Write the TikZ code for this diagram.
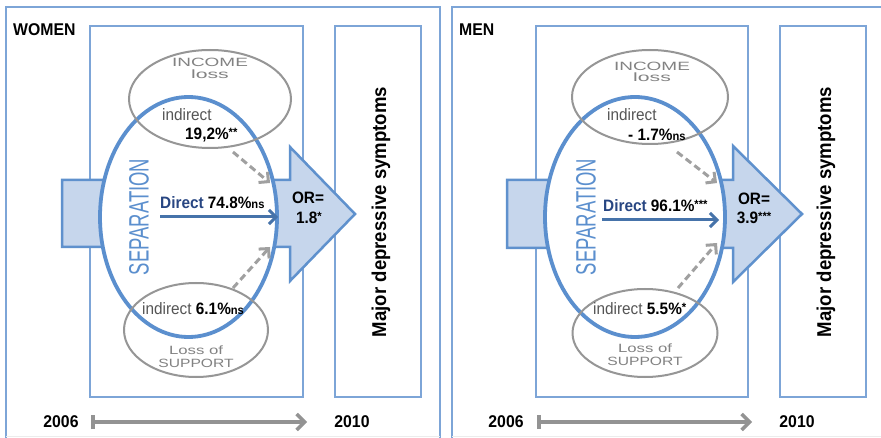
\documentclass[tikz,border=0pt]{standalone}
\usepackage{fontspec}
\setmainfont[FakeStretch=0.93]{Liberation Sans}
\usepackage{graphicx}
\usetikzlibrary{shapes.geometric,arrows.meta}
\definecolor{frameblue}{RGB}{125,165,215}
\definecolor{sepblue}{RGB}{91,143,206}
\definecolor{arrfill}{RGB}{198,214,236}
\definecolor{arrline}{RGB}{95,145,205}
\definecolor{dirblue}{RGB}{70,115,170}
\definecolor{dirtext}{RGB}{40,70,130}
\definecolor{dashgray}{RGB}{160,160,160}
\definecolor{ellgray}{RGB}{150,150,150}
\definecolor{txtgray}{RGB}{85,85,85}
\definecolor{lbgray}{RGB}{130,130,130}
\newcommand\sigx[1]{\raisebox{3.5pt}{\fontsize{12}{12}\selectfont #1}}
\newcommand\nsx{{\fontsize{12}{12}\selectfont ns}}
\begin{document}
\begin{tikzpicture}[x=1pt,y=-1pt,
  frame/.style={draw=frameblue,line width=1.5pt},
  boxx/.style={draw=frameblue,line width=1.5pt,fill=white},
  blockarr/.style={draw=arrline,line width=2.5pt,fill=arrfill,line join=miter},
  sepell/.style={ellipse,draw=sepblue,line width=3.8pt,fill=white,inner sep=0pt},
  grayell/.style={ellipse,draw=ellgray,line width=2pt,inner sep=0pt},
  lbl/.style={inner sep=0pt,text=black,font=\fontsize{16.5}{18}\selectfont},
  wordart/.style={inner sep=0pt,text=lbgray},
  directarr/.style={draw=dirblue,line width=3pt,-{Straight Barb[length=7pt,width=14pt]}},
  dasharr/.style={draw=dashgray,line width=3pt,dash pattern=on 7pt off 4pt,-{Straight Barb[length=7pt,width=14pt]}},
  timearr/.style={draw=gray!85,line width=3.5pt,{Bar[width=14pt]}-{Straight Barb[length=8pt,width=16pt]}},
  year/.style={inner sep=0pt,font=\fontsize{17}{19}\selectfont\bfseries},
  vert/.style={inner sep=0pt,rotate=90,font=\fontsize{20}{22}\selectfont\bfseries},
  septxt/.style={inner sep=0pt,rotate=90,text=sepblue,font=\fontsize{28}{30}\selectfont}
]
\useasboundingbox (0,0) rectangle (881,438);
\fill[white] (0,0) rectangle (881,438);

% ---------------- WOMEN ----------------
\draw[frame] (6,438) -- (6,7) -- (440,7) -- (440,438);
\draw[gray!15,line width=1pt] (6,436) -- (440,436);
\node[lbl,anchor=west,font=\fontsize{17}{19}\selectfont\bfseries] (tW) at (13,30) {WOMEN};
\draw[boxx] (90,26) rectangle (303,397);
\draw[boxx] (335,26) rectangle (421,397);
\draw[blockarr] (62,180) -- (290,180) -- (290,147) -- (355,214) -- (290,281) -- (290,247) -- (62,247) -- cycle;
\node[sepell,minimum width=177pt,minimum height=240pt] (sepW) at (188.5,217) {};
\node[grayell,minimum width=162pt,minimum height=98pt] (incW) at (210,99) {};
\node[grayell,minimum width=144pt,minimum height=94pt] (supW) at (196,330) {};
\node[wordart] (incWt) at (210,62) {\fontsize{12}{12}\selectfont\scalebox{1.7}[1]{INCOME}};
\node[wordart] (incWl) at (210,74) {\fontsize{12}{12}\selectfont\scalebox{1.9}[1]{loss}};
\node[wordart] (supWt) at (196,350) {\fontsize{12}{12}\selectfont\scalebox{1.5}[1]{Loss of}};
\node[wordart] (supWl) at (196,363) {\fontsize{12}{12}\selectfont\scalebox{1.4}[1]{SUPPORT}};
\node[septxt] (sepWt) at (139,217) {\scalebox{0.71}[1]{SEPARATION}};
\node[vert] (mdsW) at (381,212) {Major depressive symptoms};
\node[lbl,anchor=west,text=txtgray] (iW1) at (162,115) {indirect};
\node[lbl,anchor=west] (vW1) at (185,135) {\bfseries 19,2\%\sigx{**}};
\node[lbl,anchor=west] (dW) at (160,203) {\textcolor{dirtext}{\bfseries Direct} \bfseries 74.8\%\nsx};
\node[lbl,anchor=west] (iW2) at (142,309) {\textcolor{txtgray}{indirect} \bfseries 6.1\%\nsx};
\node[lbl,font=\fontsize{16.5}{18}\selectfont\bfseries] (orW1) at (308,198) {OR=};
\node[lbl,font=\fontsize{16.5}{18}\selectfont\bfseries] (orW2) at (309,218) {1.8\sigx{*}};
\coordinate (dWs) at (160,217);
\coordinate (dWe) at (278,217);
\draw[directarr] (dWs) -- (dWe);
\coordinate (aW1s) at (233,152);
\coordinate (aW1e) at (270,183);
\draw[dasharr] (aW1s) -- (aW1e);
\coordinate (aW2s) at (233,288);
\coordinate (aW2e) at (270,247);
\draw[dasharr] (aW2s) -- (aW2e);
\node[year] (yW1) at (61,422) {2006};
\node[year] (yW2) at (352,422) {2010};
\coordinate (tW1) at (91,422);
\coordinate (tW2) at (307,422);
\draw[timearr] (tW1) -- (tW2);

% ---------------- MEN ----------------
\draw[frame] (452,438) -- (452,7) -- (884,7);
\draw[gray!15,line width=1pt] (452,436) -- (881,436);
\node[lbl,anchor=west,font=\fontsize{17}{19}\selectfont\bfseries] (tM) at (459,30) {MEN};
\draw[boxx] (536,26) rectangle (748,397);
\draw[boxx] (780,26) rectangle (866,397);
\draw[blockarr] (507,180) -- (733,180) -- (733,146) -- (802,214) -- (733,282) -- (733,248) -- (507,248) -- cycle;
\node[sepell,minimum width=180pt,minimum height=240pt] (sepM) at (635,217) {};
\node[grayell,minimum width=156pt,minimum height=94pt] (incM) at (650,97) {};
\node[grayell,minimum width=145pt,minimum height=88pt] (supM) at (645,333) {};
\node[wordart] (incMt) at (652,66) {\fontsize{12}{12}\selectfont\scalebox{1.7}[1]{INCOME}};
\node[wordart] (incMl) at (652,77) {\fontsize{12}{12}\selectfont\scalebox{1.9}[1]{loss}};
\node[wordart] (supMt) at (645,348) {\fontsize{12}{12}\selectfont\scalebox{1.5}[1]{Loss of}};
\node[wordart] (supMl) at (645,361) {\fontsize{12}{12}\selectfont\scalebox{1.4}[1]{SUPPORT}};
\node[septxt] (sepMt) at (586,217) {\scalebox{0.71}[1]{SEPARATION}};
\node[vert] (mdsM) at (826,212) {Major depressive symptoms};
\node[lbl,anchor=west,text=txtgray] (iM1) at (607,115) {indirect};
\node[lbl,anchor=west] (vM1) at (628,135) {\bfseries - 1.7\%\nsx};
\node[lbl,anchor=west] (dM) at (603,206) {\textcolor{dirtext}{\bfseries Direct} \bfseries 96.1\%\sigx{***}};
\node[lbl,anchor=west] (iM2) at (593,309) {\textcolor{txtgray}{indirect} \bfseries 5.5\%\sigx{*}};
\node[lbl,font=\fontsize{16.5}{18}\selectfont\bfseries] (orM1) at (754,199) {OR=};
\node[lbl,font=\fontsize{16.5}{18}\selectfont\bfseries] (orM2) at (754,218) {3.9\sigx{***}};
\coordinate (dMs) at (602,220);
\coordinate (dMe) at (719,220);
\draw[directarr] (dMs) -- (dMe);
\coordinate (aM1s) at (677,152);
\coordinate (aM1e) at (717,183);
\draw[dasharr] (aM1s) -- (aM1e);
\coordinate (aM2s) at (678,288);
\coordinate (aM2e) at (717,243);
\draw[dasharr] (aM2s) -- (aM2e);
\node[year] (yM1) at (506,422) {2006};
\node[year] (yM2) at (797,422) {2010};
\coordinate (tM1) at (537,422);
\coordinate (tM2) at (752,422);
\draw[timearr] (tM1) -- (tM2);
\end{tikzpicture}
\end{document}
